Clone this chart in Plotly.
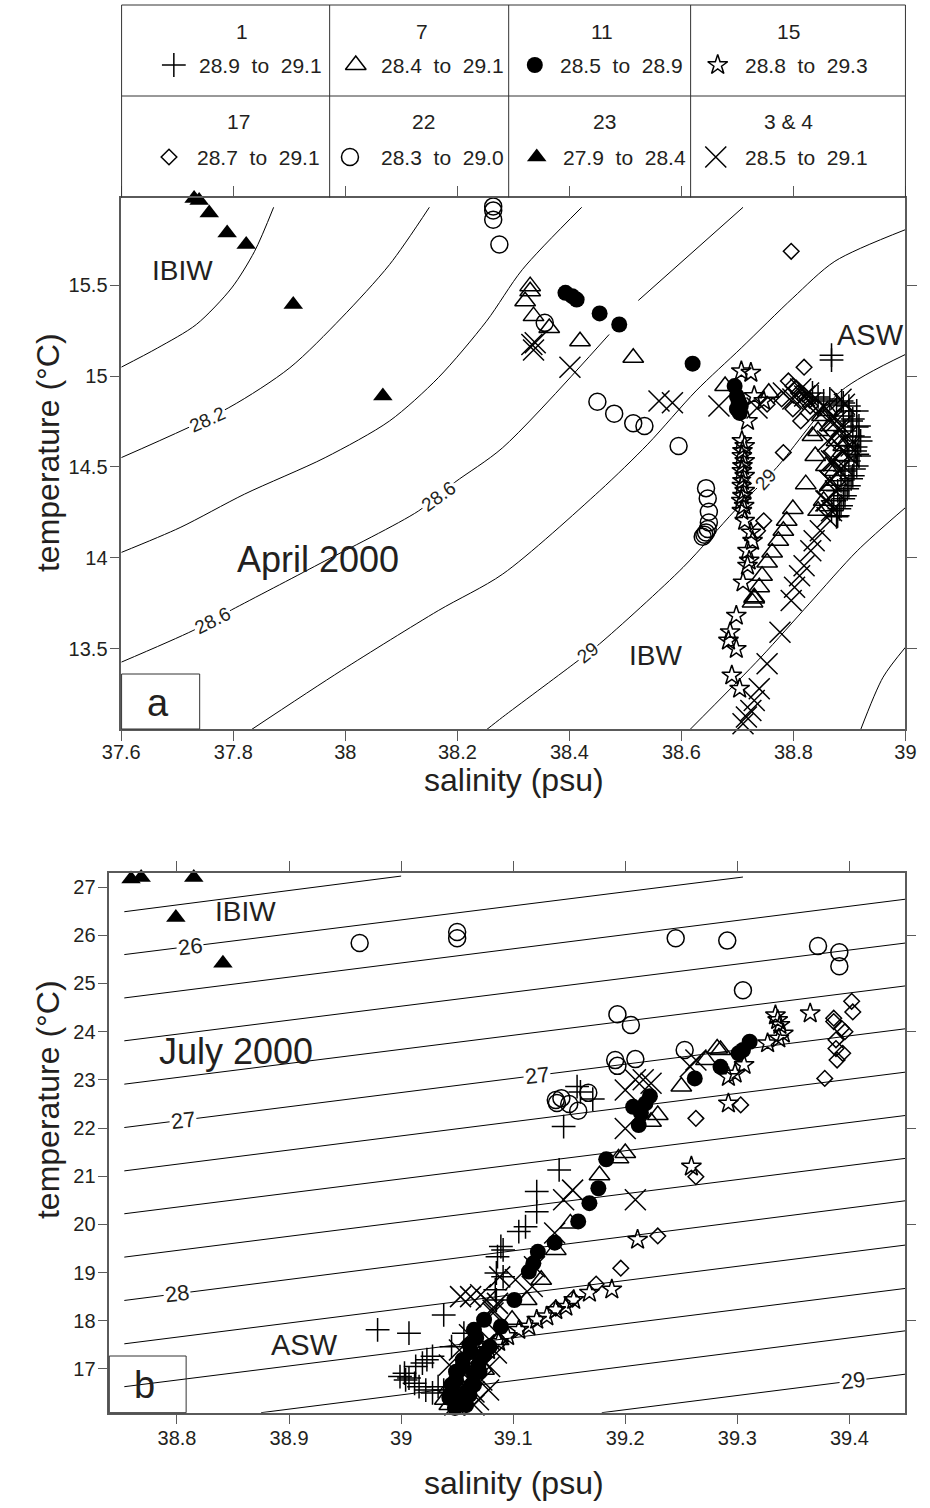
import plotly.graph_objects as go

W, H = 930, 1508
FONT = "Liberation Sans, Arial, Helvetica, sans-serif"
INK = "#231f20"
AXIS = "#5a5a5a"

# ---------------- station table ----------------
STATION_ID = ["1", "7", "11", "15", "17", "22", "23", "3 & 4"]
SIGMA_RANGE = ["28.9 to 29.1", "28.4 to 29.1", "28.5 to 28.9", "28.8 to 29.3",
               "28.7 to 29.1", "28.3 to 29.0", "27.9 to 28.4", "28.5 to 29.1"]

# ---------------- April 2000 : (salinity psu, temperature degC) ----------------
apr_st1 = [(38.868, 15.115), (38.868, 15.088), (38.914, 14.570),
           (38.834, 14.907), (38.844, 14.885), (38.854, 14.863), (38.865, 14.874),
           (38.877, 14.841), (38.889, 14.852), (38.899, 14.808), (38.906, 14.764),
           (38.913, 14.720), (38.917, 14.665), (38.911, 14.610), (38.908, 14.489),
           (38.903, 14.434), (38.896, 14.379), (38.889, 14.324), (38.882, 14.269),
           (38.877, 14.225),
           (38.886, 14.863), (38.899, 14.835), (38.913, 14.808), (38.889, 14.780),
           (38.903, 14.753), (38.917, 14.725), (38.892, 14.698), (38.906, 14.670),
           (38.920, 14.643), (38.896, 14.615), (38.910, 14.588), (38.917, 14.560),
           (38.899, 14.533), (38.913, 14.505), (38.892, 14.478), (38.906, 14.451),
           (38.885, 14.423), (38.899, 14.396), (38.879, 14.368), (38.892, 14.341),
           (38.872, 14.313), (38.885, 14.286), (38.868, 14.258), (38.879, 14.231)]
apr_st7 = [(38.330, 15.495), (38.330, 15.467), (38.321, 15.412), (38.336, 15.330),
           (38.364, 15.265), (38.419, 15.192), (38.514, 15.101), (38.678, 14.945),
           (38.756, 14.908), (38.834, 14.670), (38.839, 14.560), (38.822, 14.405),
           (38.799, 14.268), (38.788, 14.203), (38.782, 14.148), (38.773, 14.093),
           (38.762, 14.029), (38.753, 13.974), (38.744, 13.901), (38.739, 13.837),
           (38.730, 13.782), (38.727, 13.754), (38.730, 13.775),
           (38.851, 14.780), (38.865, 14.725), (38.877, 14.643), (38.882, 14.560),
           (38.874, 14.478), (38.865, 14.396), (38.854, 14.313), (38.844, 14.258),
           (38.861, 14.808), (38.844, 14.698), (38.889, 14.615), (38.858, 14.505),
           (38.877, 14.423)]
apr_st11 = [(38.393, 15.458), (38.405, 15.440), (38.413, 15.421), (38.454, 15.345),
            (38.489, 15.284), (38.620, 15.068), (38.695, 14.945), (38.699, 14.890),
            (38.702, 14.863), (38.706, 14.835), (38.699, 14.819), (38.704, 14.797)]
apr_st15 = [(38.707, 15.027), (38.724, 15.018), (38.730, 14.890), (38.747, 14.863),
            (38.718, 14.753),
            (38.708, 14.643), (38.713, 14.615), (38.709, 14.588), (38.708, 14.560),
            (38.713, 14.533), (38.709, 14.505), (38.708, 14.478), (38.713, 14.451),
            (38.709, 14.423), (38.708, 14.396), (38.713, 14.368), (38.709, 14.341),
            (38.707, 14.313), (38.712, 14.286), (38.708, 14.258),
            (38.713, 14.203), (38.724, 14.139), (38.727, 14.093), (38.718, 14.038),
            (38.721, 13.984), (38.718, 13.956), (38.710, 13.864), (38.698, 13.681),
            (38.687, 13.590), (38.684, 13.544), (38.698, 13.498), (38.690, 13.352),
            (38.704, 13.279), (38.696, 13.049)]
apr_st17 = [(38.796, 15.687), (38.819, 15.049), (38.782, 14.579), (38.747, 14.203),
            (38.736, 14.148), (38.753, 14.845), (38.799, 14.945), (38.809, 14.907),
            (38.820, 14.874), (38.799, 14.819), (38.830, 14.835), (38.813, 14.753),
            (38.791, 14.973), (38.805, 14.934), (38.817, 14.901), (38.829, 14.868),
            (38.841, 14.835), (38.779, 14.874)]
apr_st22 = [(38.264, 15.934), (38.264, 15.912), (38.264, 15.861), (38.275, 15.724),
            (38.356, 15.293), (38.450, 14.859), (38.480, 14.793), (38.514, 14.740),
            (38.534, 14.725), (38.595, 14.615), (38.644, 14.383), (38.647, 14.326),
            (38.649, 14.253), (38.649, 14.194), (38.647, 14.158), (38.644, 14.139),
            (38.641, 14.126), (38.638, 14.115)]
apr_st23 = [(37.730, 15.978), (37.739, 15.967), (37.757, 15.897), (37.789, 15.787),
            (37.823, 15.724), (37.907, 15.394), (38.067, 14.890)]
apr_st34 = [(38.333, 15.174), (38.339, 15.183), (38.336, 15.143), (38.401, 15.049),
            (38.560, 14.863), (38.584, 14.853), (38.667, 14.835), (38.735, 14.824),
            (38.885, 14.872), (38.891, 14.845), (38.877, 14.753), (38.873, 14.643),
            (38.868, 14.533), (38.865, 14.423), (38.860, 14.313), (38.860, 14.221),
            (38.848, 14.148), (38.837, 14.093), (38.831, 14.038), (38.819, 13.956),
            (38.811, 13.901), (38.802, 13.837), (38.796, 13.764), (38.776, 13.590),
            (38.753, 13.416), (38.739, 13.279), (38.730, 13.214), (38.724, 13.159),
            (38.716, 13.123), (38.710, 13.086),
            (38.820, 14.890), (38.830, 14.852), (38.844, 14.808), (38.858, 14.819),
            (38.872, 14.780), (38.885, 14.725), (38.896, 14.670), (38.903, 14.615),
            (38.899, 14.560), (38.889, 14.505),
            (38.868, 14.753), (38.882, 14.698), (38.861, 14.643), (38.889, 14.588),
            (38.872, 14.533), (38.882, 14.478), (38.865, 14.423), (38.875, 14.368),
            (38.858, 14.313), (38.868, 14.258),
            (38.782, 14.907), (38.799, 14.874), (38.813, 14.929), (38.827, 14.907)]

# April isopycnals (None = break in the curve)
apr_iso = [
    [(37.872, 15.929), (37.838, 15.687), (37.797, 15.485), (37.734, 15.284), (37.665, 15.155), (37.600, 15.049)],
    [(38.150, 15.929), (38.079, 15.614), (37.993, 15.320), (37.901, 15.046), (37.792, 14.826), (37.600, 14.551)],
    [(38.422, 15.929), (38.316, 15.586), (38.252, 15.302), (38.166, 14.991), (38.079, 14.753), (37.964, 14.551),
     (37.820, 14.350), (37.705, 14.166), (37.600, 14.029)],
    [(38.710, 15.929), (38.523, 15.416), None, (38.471, 15.229), (38.281, 14.606), (38.195, 14.414),
     (38.131, 14.258), (37.953, 13.965), (37.797, 13.713), (37.728, 13.599), (37.600, 13.425)],
    [(39.000, 15.806), (38.874, 15.632), (38.799, 15.430), (38.707, 15.155), (38.626, 14.918), (38.540, 14.625),
     (38.454, 14.368), (38.281, 13.910), (38.166, 13.709), (37.993, 13.379), (37.832, 13.053)],
    [(39.000, 15.119), (38.885, 14.918), (38.770, 14.496), (38.695, 14.258), (38.603, 13.947), (38.454, 13.526),
     (38.408, 13.416), (38.281, 13.123), (38.252, 13.053)],
    [(39.000, 14.276), (38.914, 14.038), (38.828, 13.746), (38.742, 13.452), (38.615, 13.053)],
    [(39.000, 13.507), (38.960, 13.342), (38.920, 13.053)],
]
apr_iso_text = ["28.2", "28.6", "28.6", "29", "29"]
apr_iso_pos = [(37.754, 14.760), (38.166, 14.338), (37.763, 13.656), (38.750, 14.432), (38.433, 13.480)]
apr_iso_angle = [-24, -36, -27, -48, -38]

# ---------------- July 2000 ----------------
jul_st1 = [(39.157, 22.86), (39.160, 22.75), (39.171, 22.60), (39.145, 22.03), (39.141, 21.13),
           (39.121, 20.68), (39.121, 20.26), (39.111, 19.95), (39.105, 19.85), (39.091, 19.47),
           (39.089, 19.54), (39.086, 19.33), (39.085, 18.99), (39.091, 18.91), (39.084, 18.64),
           (39.085, 18.43), (39.038, 18.12), (39.056, 17.74), (39.045, 17.46), (39.007, 17.74),
           (38.979, 17.81), (39.028, 17.26), (39.023, 17.19), (39.019, 17.12), (39.013, 17.05),
           (39.003, 16.91), (38.999, 16.84), (39.007, 16.81), (39.012, 16.70), (39.016, 16.63),
           (39.022, 16.56), (39.028, 16.50), (39.004, 16.77), (39.033, 16.63), (39.038, 16.56)]
jul_st7 = [(39.282, 23.65), (39.285, 23.62), (39.272, 23.41), (39.250, 22.86), (39.229, 22.27),
           (39.223, 22.13), (39.200, 21.48), (39.194, 21.37), (39.177, 21.02), (39.151, 20.02),
           (39.138, 19.47), (39.125, 18.85), (39.112, 18.43), (39.099, 18.02), (39.087, 17.60),
           (39.074, 16.98), (39.056, 16.56), (39.052, 16.36), (39.039, 16.36), (39.043, 16.25),
           (39.043, 16.61), (39.049, 16.40), (39.058, 16.77)]
jul_st11 = [(39.311, 23.79), (39.305, 23.62), (39.301, 23.55), (39.285, 23.27), (39.262, 23.03),
            (39.222, 22.66), (39.218, 22.51), (39.207, 22.44), (39.214, 22.31), (39.212, 22.06),
            (39.183, 21.35), (39.176, 20.75), (39.168, 20.44), (39.158, 20.06), (39.137, 19.62),
            (39.122, 19.43), (39.118, 19.19), (39.114, 19.02), (39.101, 18.43), (39.089, 17.88),
            (39.079, 17.46), (39.074, 17.29), (39.069, 17.08), (39.065, 16.88), (39.063, 16.67),
            (39.061, 16.46), (39.058, 16.25), (39.065, 17.81), (39.061, 17.50), (39.055, 17.19),
            (39.049, 16.94), (39.045, 16.67), (39.043, 16.40), (39.048, 16.19),
            (39.074, 18.02), (39.067, 17.64), (39.062, 17.35), (39.055, 17.06), (39.049, 16.77),
            (39.046, 16.52), (39.052, 16.32), (39.058, 16.52), (39.065, 16.67), (39.070, 16.94)]
jul_st15 = [(39.334, 24.34), (39.336, 24.24), (39.338, 24.14), (39.341, 23.96), (39.337, 23.86),
            (39.327, 23.76), (39.365, 24.38), (39.298, 23.13), (39.292, 23.06), (39.306, 23.31),
            (39.292, 22.51), (39.259, 21.20), (39.211, 19.68), (39.188, 18.65), (39.168, 18.58),
            (39.154, 18.43), (39.147, 18.29), (39.138, 18.22), (39.130, 18.09), (39.121, 18.02),
            (39.114, 17.88), (39.105, 17.81), (39.095, 17.68), (39.087, 17.56), (39.078, 17.39),
            (39.069, 17.27), (39.061, 17.15), (39.055, 16.98)]
jul_st17 = [(39.402, 24.63), (39.403, 24.41), (39.386, 24.28), (39.386, 24.21), (39.393, 24.07),
            (39.396, 24.00), (39.388, 23.83), (39.388, 23.65), (39.394, 23.55), (39.389, 23.41),
            (39.378, 23.03), (39.303, 22.48), (39.263, 22.20), (39.263, 20.99), (39.229, 19.76),
            (39.196, 19.09), (39.174, 18.76), (39.153, 18.45), (39.138, 18.26)]
jul_st22 = [(38.963, 25.84), (39.050, 26.07), (39.050, 25.94), (39.245, 25.94), (39.291, 25.89),
            (39.372, 25.78), (39.391, 25.65), (39.391, 25.36), (39.305, 24.86), (39.193, 24.36),
            (39.205, 24.14), (39.253, 23.62), (39.191, 23.41), (39.193, 23.29), (39.209, 23.43),
            (39.138, 22.58), (39.143, 22.62), (39.139, 22.52), (39.150, 22.50), (39.158, 22.36),
            (39.167, 22.73)]
jul_st23 = [(38.759, 27.17), (38.768, 27.20), (38.815, 27.20), (38.799, 26.37), (38.841, 25.42)]
jul_st34 = [(39.200, 22.79), (39.209, 23.00), (39.216, 23.00), (39.223, 22.93), (39.258, 23.27),
            (39.263, 23.41), (39.200, 21.99), (39.209, 20.51), (39.153, 20.71), (39.145, 20.51),
            (39.137, 19.82), (39.119, 19.12), (39.117, 18.71), (39.102, 18.85), (39.088, 18.91),
            (39.086, 18.36), (39.082, 18.22), (39.076, 18.43), (39.071, 18.54), (39.062, 18.50),
            (39.053, 18.50), (39.082, 18.16), (39.086, 17.74), (39.085, 17.33), (39.079, 17.60),
            (39.079, 17.05), (39.072, 16.77), (39.065, 16.52), (39.059, 16.08), (39.052, 16.77),
            (39.056, 16.46), (39.048, 16.25), (39.065, 16.25),
            (39.043, 17.08), (39.052, 17.39), (39.061, 17.71), (39.074, 17.50), (39.065, 17.19),
            (39.078, 16.56), (39.069, 16.36)]

# July isopycnals, 25.75 ... 29.0 every 0.25
jul_iso = [
    [(38.753, 26.49), (39.000, 27.23)],
    [(38.753, 25.60), (39.305, 27.21)],
    [(38.753, 24.70), (39.450, 26.75)],
    [(38.753, 23.81), (39.450, 25.84)],
    [(38.753, 22.91), (39.450, 24.95)],
    [(38.753, 22.01), (39.450, 24.06)],
    [(38.753, 21.11), (39.450, 23.16)],
    [(38.753, 20.22), (39.450, 22.26)],
    [(38.753, 19.32), (39.450, 21.37)],
    [(38.753, 18.42), (39.450, 20.49)],
    [(38.753, 17.52), (39.450, 19.57)],
    [(38.753, 16.63), (39.450, 18.67)],
    [(38.875, 16.09), (39.450, 17.79)],
    [(39.179, 16.09), (39.450, 16.89)],
]
jul_iso_text = ["26", "27", "27", "28", "29"]
jul_iso_pos = [(38.812, 25.77), (38.805, 22.16), (39.121, 23.09), (38.800, 18.56), (39.403, 16.75)]

# ---------------- marker styles per station ----------------
SYMBOL = {"1": ("cross-thin", 17, False), "7": ("triangle-up-open", 18, False),
          "11": ("circle", 16, True), "15": ("star-open", 15, False),
          "17": ("diamond-open", 12, False), "22": ("circle-open", 17, False),
          "23": ("triangle-up", 17, True), "3 & 4": ("x-thin", 21, False)}

APRIL = {"1": apr_st1, "7": apr_st7, "11": apr_st11, "15": apr_st15, "17": apr_st17,
         "22": apr_st22, "23": apr_st23, "3 & 4": apr_st34}
JULY = {"1": jul_st1, "7": jul_st7, "11": jul_st11, "15": jul_st15, "17": jul_st17,
        "22": jul_st22, "23": jul_st23, "3 & 4": jul_st34}
DRAW_ORDER = ["22", "23", "17", "7", "1", "3 & 4", "15", "11"]


def unzip(points):
    xs, ys = [], []
    for p in points:
        if p is None:
            xs.append(None)
            ys.append(None)
        else:
            xs.append(p[0])
            ys.append(p[1])
    return xs, ys


def marker(st):
    sym, size, filled = SYMBOL[st]
    return dict(symbol=sym, size=size, color="black",
                line=dict(color="black", width=1.5 if not filled else 0))


fig = go.Figure()

# isopycnals
for line in apr_iso:
    xs, ys = unzip(line)
    fig.add_trace(go.Scatter(x=xs, y=ys, mode="lines", xaxis="x", yaxis="y",
                             line=dict(color="black", width=1, shape="spline", smoothing=0.8),
                             hoverinfo="skip", connectgaps=False))
for line in jul_iso:
    xs, ys = unzip(line)
    fig.add_trace(go.Scatter(x=xs, y=ys, mode="lines", xaxis="x2", yaxis="y2",
                             line=dict(color="black", width=1), hoverinfo="skip"))

# stations
for st in DRAW_ORDER:
    xs, ys = unzip(APRIL[st])
    fig.add_trace(go.Scatter(x=xs, y=ys, mode="markers", xaxis="x", yaxis="y",
                             marker=marker(st), cliponaxis=False, name=st))
    xs, ys = unzip(JULY[st])
    fig.add_trace(go.Scatter(x=xs, y=ys, mode="markers", xaxis="x2", yaxis="y2",
                             marker=marker(st), cliponaxis=False, name=st))

# ---------------- station table (header box above panel a) ----------------
TBL_L, TBL_R, TBL_T, TBL_B, TBL_MID = 106, 916, 5, 197.5, 96
TBL_COLS = [321, 506, 694]
HEAD_X = [230, 416, 602, 795, 227, 418, 605, 795]
SYM_X = [160, 348, 533, 722, 155, 342, 535, 720]
TXT_X = [184, 372, 557, 748, 182, 372, 560, 748]
ROW_HEAD_Y = [31, 121]
ROW_VAL_Y = [65, 157]


def px(x):
    return x / W


def py(y):
    return 1 - y / H


shapes = []
line_style = dict(color="#333333", width=1)
shapes.append(dict(type="line", xref="paper", yref="paper", x0=px(TBL_L), x1=px(TBL_R),
                   y0=py(TBL_T), y1=py(TBL_T), line=line_style))
shapes.append(dict(type="line", xref="paper", yref="paper", x0=px(TBL_L), x1=px(TBL_R),
                   y0=py(TBL_MID), y1=py(TBL_MID), line=line_style))
for xc in [TBL_L, TBL_R] + TBL_COLS:
    shapes.append(dict(type="line", xref="paper", yref="paper", x0=px(xc), x1=px(xc),
                       y0=py(TBL_T), y1=py(TBL_B), line=line_style))

for i, st in enumerate(STATION_ID):
    row = i // 4
    fig.add_trace(go.Scatter(x=[SYM_X[i]], y=[ROW_VAL_Y[row]], mode="markers",
                             xaxis="x4", yaxis="y4", marker=marker(st), cliponaxis=False,
                             hoverinfo="skip"))

annotations = []
for i, st in enumerate(STATION_ID):
    row = i // 4
    annotations.append(dict(xref="paper", yref="paper", x=px(HEAD_X[i]), y=py(ROW_HEAD_Y[row]),
                            text=st, showarrow=False, xanchor="center", yanchor="middle",
                            font=dict(family=FONT, size=21, color=INK)))
    annotations.append(dict(xref="paper", yref="paper", x=px(TXT_X[i]), y=py(ROW_VAL_Y[row]),
                            text=SIGMA_RANGE[i].replace(" to ", "\u00a0\u00a0to\u00a0\u00a0"),
                            showarrow=False, xanchor="left", yanchor="middle",
                            font=dict(family=FONT, size=21, color=INK)))

# isopycnal labels
for t, (s, tt), ang in zip(apr_iso_text, apr_iso_pos, apr_iso_angle):
    annotations.append(dict(xref="x", yref="y", x=s, y=tt, text=t, showarrow=False,
                            textangle=ang, bgcolor="white", borderpad=1,
                            font=dict(family=FONT, size=19, color=INK)))
for t, (s, tt) in zip(jul_iso_text, jul_iso_pos):
    annotations.append(dict(xref="x2", yref="y2", x=s, y=tt, text=t, showarrow=False,
                            textangle=-7, bgcolor="white", borderpad=1,
                            font=dict(family=FONT, size=22, color=INK)))


# water-mass and month labels
def note(xref, yref, x, y, text, size):
    return dict(xref=xref, yref=yref, x=x, y=y, text=text, showarrow=False,
                xanchor="center", yanchor="middle", font=dict(family=FONT, size=size, color=INK))


annotations += [
    note("x", "y", 37.710, 15.580, "IBIW", 28),
    note("x", "y", 37.952, 13.990, "April 2000", 36),
    note("x", "y", 38.937, 15.228, "ASW", 29),
    note("x", "y", 38.554, 13.462, "IBW", 28),
    note("x2", "y2", 38.861, 26.50, "IBIW", 28),
    note("x2", "y2", 38.853, 23.58, "July 2000", 36),
    note("x2", "y2", 38.914, 17.50, "ASW", 29),
]

# panel letters
A_BOX = (106, 186.7, 674, 729)
B_BOX = (93.3, 172.7, 1356, 1412.7)
for (x0, x1, y0, y1), letter in [(A_BOX, "a"), (B_BOX, "b")]:
    shapes.append(dict(type="rect", xref="paper", yref="paper", x0=px(x0), x1=px(x1),
                       y0=py(y1), y1=py(y0), line=dict(color="#333333", width=1)))
    annotations.append(dict(xref="paper", yref="paper", x=px((x0 + x1) / 2 - 3), y=py((y0 + y1) / 2 + 1),
                            text=letter, showarrow=False, xanchor="center", yanchor="middle",
                            font=dict(family=FONT, size=38, color=INK)))

# axis titles
for yc in [453, 1100]:
    annotations.append(dict(xref="paper", yref="paper", x=px(30), y=py(yc), text="temperature (°C)",
                            textangle=-90, showarrow=False, xanchor="center", yanchor="middle",
                            font=dict(family=FONT, size=32, color=INK)))
for yc in [780, 1483]:
    annotations.append(dict(xref="paper", yref="paper", x=px(512), y=py(yc), text="salinity (psu)",
                            showarrow=False, xanchor="center", yanchor="middle",
                            font=dict(family=FONT, size=32, color=INK)))

tickfont = dict(family=FONT, size=20, color=INK)
common = dict(showgrid=False, zeroline=False, showline=True, linecolor=AXIS, linewidth=1.5,
              ticks="outside", ticklen=10, tickcolor=AXIS, tickwidth=1.2, tickfont=tickfont)

fig.update_layout(
    width=W, height=H, margin=dict(l=0, r=0, t=0, b=0),
    paper_bgcolor="white", plot_bgcolor="rgba(0,0,0,0)", showlegend=False,
    xaxis=dict(domain=[px(105.7), px(916)], anchor="y", range=[37.6, 39.0], mirror="ticks",
               tickvals=[37.6, 37.8, 38.0, 38.2, 38.4, 38.6, 38.8, 39.0], ticklabelstandoff=-6,
               ticktext=["37.6", "37.8", "38", "38.2", "38.4", "38.6", "38.8", "39"], **common),
    yaxis=dict(domain=[py(729), py(197.5)], anchor="x", range=[13.057, 15.983], mirror="ticks",
               tickvals=[13.5, 14.0, 14.5, 15.0, 15.5], ticklabelstandoff=-2,
               ticktext=["13.5", "14", "14.5", "15", "15.5"], **common),
    xaxis2=dict(domain=[px(93.3), px(916)], anchor="y2", range=[38.7396, 39.45], mirror="ticks",
                tickvals=[38.8, 38.9, 39.0, 39.1, 39.2, 39.3, 39.4], ticklabelstandoff=-3,
                ticktext=["38.8", "38.9", "39", "39.1", "39.2", "39.3", "39.4"], **common),
    yaxis2=dict(domain=[py(1412.7), py(872.7)], anchor="x2", range=[16.09, 27.3], mirror=True,
                ticklabelstandoff=-2,
                tickvals=list(range(17, 28)), ticktext=[str(v) for v in range(17, 28)], **common),
    yaxis3=dict(overlaying="y2", side="right", anchor="x2", range=[16.09, 27.3],
                tickvals=[18, 20, 22, 24, 26], ticks="outside", ticklen=10, tickcolor=AXIS,
                tickwidth=1.2, showticklabels=False, showline=False, showgrid=False, zeroline=False),
    xaxis4=dict(domain=[px(TBL_L), px(TBL_R)], anchor="y4", range=[TBL_L, TBL_R], visible=False),
    yaxis4=dict(domain=[py(TBL_B), py(TBL_T)], anchor="x4", range=[TBL_B, TBL_T], visible=False),
    shapes=shapes, annotations=annotations,
)
fig.add_trace(go.Scatter(x=[None], y=[None], xaxis="x2", yaxis="y3", hoverinfo="skip"))

fig.write_html("out.html")
